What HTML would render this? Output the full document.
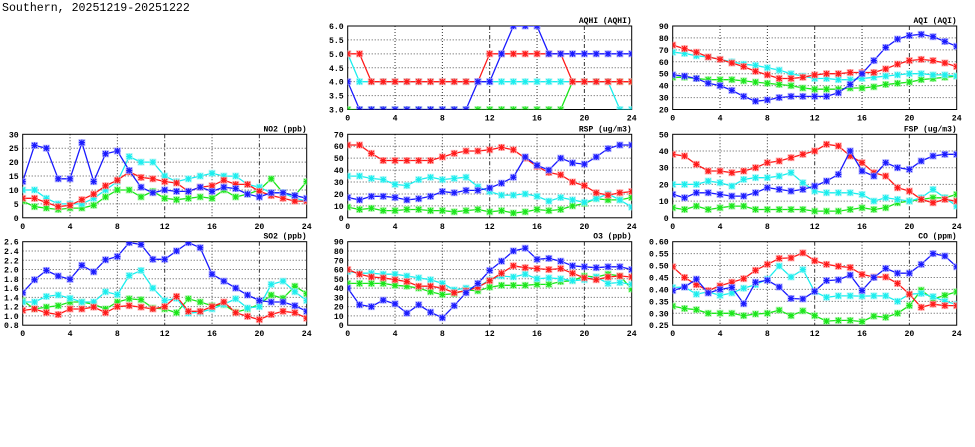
<!DOCTYPE html>
<html><head><meta charset="utf-8"><style>
html,body{margin:0;padding:0;background:#fff;}
svg{display:block;font-family:"Liberation Mono",monospace;}
</style></head><body>
<svg id="chart" width="975" height="447" viewBox="0 0 975 447" xmlns="http://www.w3.org/2000/svg">
<text x="2" y="11" font-size="11.6" fill="#000">Southern, 20251219-20251222</text>
</svg>
<script>
const hours = [0,1,2,3,4,5,6,7,8,9,10,11,12,13,14,15,16,17,18,19,20,21,22,23,24];
const xTicks = [0,4,8,12,16,20,24];

const aqhiBlue = [4,3,3,3,3,3,3,3,3,3,3,4,4,5,6,6,6,5,5,5,5,5,5,5,5];
const aqhiRed = [5,5,4,4,4,4,4,4,4,4,4,4,5,5,5,5,5,5,5,4,4,4,4,4,4];
const aqhiCyan = [5,4,4,4,4,4,4,4,4,4,4,4,4,4,4,4,4,4,4,4,4,4,4,3,3];
const aqhiGreen = [3,3,3,3,3,3,3,3,3,3,3,3,3,3,3,3,3,3,3,4,4,4,4,4,4];
const aqhiTicks = ['3.0','3.5','4.0','4.5','5.0','5.5','6.0'];

const aqiBlue = [49,48,46,42,40,36,31,27,28,30,31,31,31,31,34,41,50,61,72,79,82,83,81,77,73];
const aqiRed = [74,71,68,64,62,59,56,52,49,46,46,47,49,50,50,51,51,51,54,58,61,62,61,59,56];
const aqiCyan = [68,67,65,64,62,60,58,57,55,53,50,48,46,46,45,45,46,47,48,49,50,50,49,49,48];
const aqiGreen = [47,47,46,45,45,45,44,43,42,41,40,38,37,37,37,38,38,39,41,42,43,45,46,47,48];
const aqiTicks = ['20','30','40','50','60','70','80','90'];

const no2Blue = [13,26,25,14,14,27,13,23,24,17,11,9,10,9.5,9.5,11,9.5,11,10.5,8.5,7.5,9,9,8,7];
const no2Red = [7,7,5.5,4,4.5,6.5,8.5,11.5,13.5,16.5,14.5,14,13,12.5,9.5,11,11.5,13.5,12,12,9.5,8,7,6,6];
const no2Cyan = [10,10,7,5,5,5,7,10,13,22,20,20,15,13,14,15,16,15,15,12,11,9,9,7,6];
const no2Green = [6,4,3.5,3,3.5,3.5,4.5,7.5,10,10,7.5,9.5,7,6.5,7,7.5,7,10,7.5,8.5,10,14,9,8,13];
const no2Ticks = ['0','5','10','15','20','25','30'];

const rspBlue = [17,15,18,18,17,15,16,18,22,21,23,23,25,29,34,51,44,40,50,46,45,51,58,61,61];
const rspRed = [61,61,54,48,48,48,48,48,51,54,56,56,57,59,57,50,43,38,36,30,27,21,19,21,22];
const rspCyan = [35,35,33,32,28,27,32,34,32,33,34,26,22,19,19,20,18,14,17,15,13,16,20,15,9];
const rspGreen = [9,7,8,6,6,7,7,6,6,5,6,7,5,6,4,5,7,6,7,10,12,16,15,15,17];
const rspTicks = ['0','10','20','30','40','50','60','70'];

const fspBlue = [14,12,15,15,14,13,13,15,18,17,16,17,19,22,26,40,28,25,33,30,29,34,37,38,38];
const fspRed = [38,37,32,28,28,27,28,30,33,34,36,38,40,44,43,37,33,27,25,18,16,11,9,11,10];
const fspCyan = [20,20,20,22,21,19,23,24,24,25,27,21,16,15,15,15,14,10,12,11,10,12,17,12,7];
const fspGreen = [6,5,7,5,6,7,7,5,5,5,5,5,4,4,4,5,6,5,6,9,10,11,12,12,14];
const fspTicks = ['0','10','20','30','40','50'];

const so2Blue = [1.5,1.78,1.98,1.86,1.79,2.09,1.95,2.21,2.28,2.58,2.54,2.22,2.22,2.4,2.58,2.47,1.9,1.75,1.6,1.45,1.33,1.3,1.3,1.22,1.1];
const so2Red = [1.12,1.15,1.07,1.03,1.15,1.15,1.19,1.07,1.2,1.22,1.19,1.15,1.2,1.42,1.1,1.1,1.2,1.3,1.07,0.99,0.92,1.03,1.1,1.07,0.95];
const so2Cyan = [1.3,1.3,1.42,1.45,1.38,1.3,1.3,1.52,1.46,1.87,1.98,1.6,1.33,1.38,1.06,1.08,1.15,1.25,1.37,1.17,1.2,1.68,1.75,1.52,1.33];
const so2Green = [1.33,1.15,1.19,1.22,1.3,1.3,1.25,1.15,1.3,1.37,1.35,1.17,1.15,1.07,1.37,1.3,1.22,1.24,1.08,1.15,1.25,1.45,1.38,1.64,1.48];
const so2Ticks = ['0.8','1.0','1.2','1.4','1.6','1.8','2.0','2.2','2.4','2.6'];

const o3Blue = [40,22,20,27,23,13,22,14,8,21,35,45,59,69,80,83,71,72,69,64,63,62,63,63,60];
const o3Red = [60,55,52,51,49,47,42,42,40,35,37,41,48,56,64,62,61,60,61,56,51,49,52,53,52];
const o3Cyan = [58,56,56,55,55,53,51,49,45,38,40,41,49,53,52,55,50,51,50,48,49,52,45,46,44];
const o3Green = [45,45,45,45,43,42,40,36,33,34,38,37,41,43,43,43,44,44,47,48,53,52,55,53,39];
const o3Ticks = ['0','10','20','30','40','50','60','70','80','90'];

const coBlue = [.395,.41,.443,.385,.4,.408,.34,.43,.438,.41,.362,.36,.392,.437,.44,.46,.395,.45,.488,.468,.468,.505,.55,.54,.495];
const coRed = [.495,.45,.42,.395,.415,.43,.445,.48,.505,.53,.532,.553,.52,.505,.497,.492,.463,.452,.452,.425,.38,.325,.338,.332,.332];
const coCyan = [.408,.41,.38,.39,.375,.385,.405,.42,.443,.498,.452,.483,.39,.367,.373,.373,.372,.373,.373,.35,.38,.383,.37,.35,.337];
const coGreen = [.33,.32,.315,.3,.3,.3,.29,.297,.3,.313,.29,.31,.29,.267,.27,.27,.265,.288,.283,.3,.332,.397,.36,.375,.39];
const coTicks = ['0.25','0.30','0.35','0.40','0.45','0.50','0.55','0.60'];

const NS='http://www.w3.org/2000/svg';
const svg=document.getElementById('chart');
function mk(tag,attrs,parent){const e=document.createElementNS(NS,tag);for(const k in attrs)e.setAttribute(k,attrs[k]);(parent||svg).appendChild(e);return e;}

const panels=[
 {id:'aqhi',title:'AQHI (AQHI)',x:347.7,y:26,ticks:aqhiTicks,series:[aqhiGreen,aqhiCyan,aqhiRed,aqhiBlue]},
 {id:'aqi',title:'AQI (AQI)',x:672.7,y:26,ticks:aqiTicks,series:[aqiGreen,aqiCyan,aqiRed,aqiBlue]},
 {id:'no2',title:'NO2 (ppb)',x:22.7,y:134.3,ticks:no2Ticks,series:[no2Green,no2Cyan,no2Red,no2Blue]},
 {id:'rsp',title:'RSP (ug/m3)',x:347.7,y:134.3,ticks:rspTicks,series:[rspGreen,rspCyan,rspRed,rspBlue]},
 {id:'fsp',title:'FSP (ug/m3)',x:672.7,y:134.3,ticks:fspTicks,series:[fspGreen,fspCyan,fspRed,fspBlue]},
 {id:'so2',title:'SO2 (ppb)',x:22.7,y:241.7,ticks:so2Ticks,series:[so2Green,so2Cyan,so2Red,so2Blue]},
 {id:'o3',title:'O3 (ppb)',x:347.7,y:241.7,ticks:o3Ticks,series:[o3Green,o3Cyan,o3Red,o3Blue]},
 {id:'co',title:'CO (ppm)',x:672.7,y:241.7,ticks:coTicks,series:[coGreen,coCyan,coRed,coBlue]}
];
const colorOrder=['#1ae61a','#1aeeee','#ff1a1a','#1a1aff'];
const haloOrder=['#a6f5a6','#a6f5f5','#ffa6a6','#a6a6ff'];
const seriesNames=['green','cyan','red','blue'];
const W=284,H=83.5;

panels.forEach(p=>{
 const g=mk('g',{});
 
 
 const tmin=parseFloat(p.ticks[0]),tmax=parseFloat(p.ticks[p.ticks.length-1]);
 const xs=v=>p.x+v/24*W;
 const ys=v=>p.y+H-(v-tmin)/(tmax-tmin)*H;
 p.ticks.forEach((t,i)=>{
  const yy=ys(parseFloat(t));
  if(i>0&&i<p.ticks.length-1){
   const l=mk('line',{x1:p.x,x2:p.x+W,y1:yy,y2:yy,stroke:'#555','stroke-width':1,'stroke-dasharray':'1,2'},g);
   
   
  }
  const tx=mk('text',{x:p.x-4,y:yy+3,'font-size':8.2,'font-weight':'bold','text-anchor':'end',fill:'#000'},g);
  tx.textContent=t;
  
  
 });
 xTicks.forEach((t,i)=>{
  const xx=xs(t);
  if(i>0&&i<xTicks.length-1){
   const dash=(t===12||t===20)?'4,2,1,2':'1,2';
   const l=mk('line',{x1:xx,x2:xx,y1:p.y,y2:p.y+H,stroke:'#333','stroke-width':1,'stroke-dasharray':dash},g);
   
   
  }
  const tx=mk('text',{x:xx,y:p.y+H+11,'font-size':8.2,'font-weight':'bold','text-anchor':'middle',fill:'#000'},g);
  tx.textContent=String(t);
  
  
 });
 const fr=mk('rect',{x:p.x,y:p.y,width:W,height:H,fill:'none',stroke:'#000','stroke-width':1},g);
 
 
 const ti=mk('text',{x:p.x+W,y:p.y-3,'font-size':8,'font-weight':'bold','text-anchor':'end',fill:'#000'},g);
 ti.textContent=p.title;
 
 
 const cp=mk('clipPath',{id:'clip-'+p.id},g);
 mk('rect',{x:p.x,y:p.y,width:W,height:H},cp);
 const sg=mk('g',{'clip-path':'url(#clip-'+p.id+')'},g);
 p.series.forEach((vals,si)=>{
  const pts=vals.map((v,i)=>xs(hours[i]).toFixed(1)+','+ys(v).toFixed(1)).join(' ');
  const pl=mk('polyline',{points:pts,fill:'none',stroke:colorOrder[si],'stroke-width':1.3},sg);
  
  
  vals.forEach((v,i)=>{
   const cx=xs(hours[i]),cy=ys(v);
   const m=mk('g',{},sg);
   
   
   mk('rect',{x:cx-3.5,y:cy-3.5,width:7,height:7,fill:haloOrder[si],opacity:0.8},m);
   const c=colorOrder[si];
   mk('path',{d:`M${cx-2.5},${cy-2.5}L${cx+2.5},${cy+2.5}M${cx-2.5},${cy+2.5}L${cx+2.5},${cy-2.5}M${cx},${cy-3}L${cx},${cy+3}M${cx-3},${cy}L${cx+3},${cy}`,stroke:c,'stroke-width':1.2,fill:'none'},m);
  });
 });
});
</script>
</body></html>
